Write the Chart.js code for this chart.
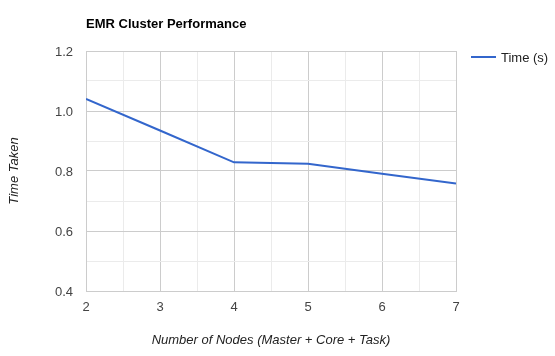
<!DOCTYPE html>
<html><head><meta charset="utf-8">
<script src="https://cdn.jsdelivr.net/npm/chart.js@4/dist/chart.umd.min.js"></script>
<style>html,body{margin:0;padding:0;background:#fff}#wrap{width:555px;height:356px;position:relative}</style>
</head><body><div id="wrap"><canvas id="c" width="555" height="356"></canvas></div>
<script>
const chartTitle = 'EMR Cluster Performance';
const seriesName = 'Time (s)';
const nodes = [2, 3, 4, 5, 6, 7];
const timeTaken = [1.04, 0.935, 0.829, 0.824, 0.791, 0.758];
const xTickLabels = ['2', '3', '4', '5', '6', '7'];
const yTickLabels = ['0.4', '0.6', '0.8', '1.0', '1.2'];
const xTitle = 'Number of Nodes (Master + Core + Task)';
const yTitle = 'Time Taken';

const FONT = 'Arial, "Liberation Sans", sans-serif';
const isMajor = (v, step) => Math.abs(v / step - Math.round(v / step)) < 1e-6;

const overlay = {
  id: 'overlay',
  afterDraw(chart) {
    const ctx = chart.ctx;
    ctx.save();
    ctx.fillStyle = '#000';
    ctx.font = 'bold 13px ' + FONT;
    ctx.textBaseline = 'middle';
    ctx.textAlign = 'left';
    ctx.fillText(chartTitle, 86, 24);
    ctx.strokeStyle = '#3366cc';
    ctx.lineWidth = 2;
    ctx.beginPath();
    ctx.moveTo(471, 57);
    ctx.lineTo(496, 57);
    ctx.stroke();
    ctx.fillStyle = '#222';
    ctx.font = '13px ' + FONT;
    ctx.fillText(seriesName, 501, 58.5);
    ctx.restore();
  }
};

new Chart(document.getElementById('c'), {
  type: 'line',
  data: {
    datasets: [{
      label: seriesName,
      data: nodes.map((n, i) => ({x: n, y: timeTaken[i]})),
      borderColor: '#3366cc',
      borderWidth: 2,
      pointRadius: 0,
      tension: 0,
      fill: false
    }]
  },
  options: {
    responsive: false,
    animation: false,
    devicePixelRatio: 1,
    layout: {padding: {top: 51, right: 99, bottom: 0, left: 0}},
    plugins: {legend: {display: false}, title: {display: false}, tooltip: {enabled: false}},
    scales: {
      x: {
        type: 'linear', min: 2, max: 7,
        afterFit(s) { s.height = 65; },
        grid: {
          drawTicks: false,
          color: c => isMajor(c.tick.value, 1) ? '#cccccc' : '#ebebeb'
        },
        border: {color: '#cccccc'},
        ticks: {
          stepSize: 0.5, padding: 9, maxRotation: 0, autoSkip: false,
          color: '#444', font: {family: FONT, size: 13},
          callback: v => isMajor(v, 1) ? xTickLabels[nodes.indexOf(Math.round(v))] : ''
        },
        title: {display: true, text: xTitle, color: '#222', font: {family: FONT, size: 13, style: 'italic'}, padding: {top: 0, bottom: 8}}
      },
      y: {
        min: 0.4, max: 1.2,
        afterFit(s) { s.width = 86; },
        grid: {
          drawTicks: false,
          color: c => isMajor(c.tick.value, 0.2) ? '#cccccc' : '#ebebeb'
        },
        border: {color: '#cccccc'},
        ticks: {
          stepSize: 0.1, padding: 13, autoSkip: false, labelOffset: 1,
          color: '#444', font: {family: FONT, size: 13},
          callback: v => isMajor(v, 0.2) ? yTickLabels[Math.round((v - 0.4) / 0.2)] : ''
        },
        title: {display: true, text: yTitle, color: '#222', font: {family: FONT, size: 13, style: 'italic'}, padding: {top: 7, bottom: 0}}
      }
    }
  },
  plugins: [overlay]
});
</script>
</body></html>
